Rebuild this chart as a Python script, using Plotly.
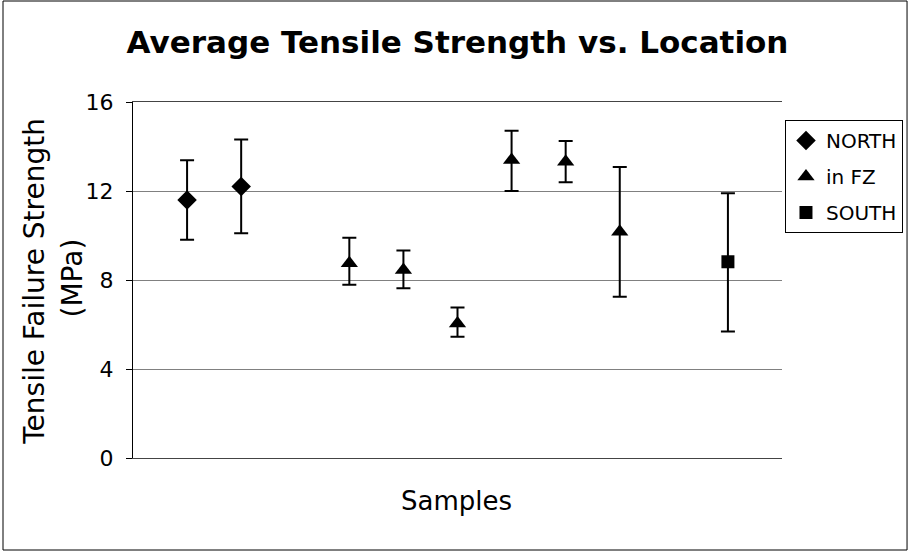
import plotly.graph_objects as go

# Data
north_x = [1, 2]
north_y = [11.6, 12.2]
north_hi = [13.38, 14.32]
north_lo = [9.81, 10.1]

fz_x = [4, 5, 6, 7, 8, 9]
fz_y = [8.75, 8.45, 6.05, 13.39, 13.32, 10.17]
fz_hi = [9.9, 9.33, 6.76, 14.71, 14.25, 13.08]
fz_lo = [7.79, 7.63, 5.45, 12.0, 12.39, 7.25]

south_x = [11]
south_y = [8.82]
south_hi = [11.9]
south_lo = [5.68]

y_ticks = [0, 4, 8, 12, 16]

W, H = 915, 552
L, R, T, B = 133, 128, 102, 94


def err(y, hi, lo):
    return dict(type="data", symmetric=False,
                array=[h - v for h, v in zip(hi, y)],
                arrayminus=[v - l for v, l in zip(y, lo)],
                color="black", thickness=2, width=7)


fig = go.Figure()
fig.add_trace(go.Scatter(x=north_x, y=north_y, mode="markers", name="NORTH",
                         legendgroup="n",
                         marker=dict(symbol="diamond", size=15, color="black"),
                         error_y=err(north_y, north_hi, north_lo)))
fig.add_trace(go.Scatter(x=fz_x, y=fz_y, mode="markers", name="in FZ",
                         legendgroup="f",
                         marker=dict(symbol="triangle-up", size=15, color="black"),
                         error_y=err(fz_y, fz_hi, fz_lo)))
fig.add_trace(go.Scatter(x=south_x, y=south_y, mode="markers", name="SOUTH",
                         legendgroup="s",
                         marker=dict(symbol="square", size=13, color="black"),
                         error_y=err(south_y, south_hi, south_lo)))

pw = W - L - R
ph = H - T - B

fig.update_layout(
    width=W, height=H,
    margin=dict(l=L, r=R, t=T, b=B, pad=0),
    paper_bgcolor="white", plot_bgcolor="white",
    font=dict(family="DejaVu Sans", color="black"),
    title=dict(text="<b>Average Tensile Strength vs. Location</b>",
               x=0.5, xanchor="center", y=1 - 42 / H, yanchor="middle",
               font=dict(size=31, family="DejaVu Sans", color="black")),
    xaxis=dict(range=[0, 12], showticklabels=False, ticks="",
               showgrid=False, zeroline=False, showline=True,
               linecolor="#444444", linewidth=1, mirror=True),
    yaxis=dict(range=[0, 16], tickvals=y_ticks, ticks="outside", ticklen=6,
               tickcolor="black", tickfont=dict(size=22), ticklabelstandoff=8,
               showgrid=True, gridcolor="#808080", gridwidth=1,
               zeroline=False, showline=True, linecolor="black", linewidth=1,
               mirror=False),
    showlegend=True,
    legend=dict(x=(790 - L) / pw, y=1 - (120 - T) / ph, xanchor="left", yanchor="top",
                bgcolor="white", bordercolor="black", borderwidth=1,
                font=dict(size=20), itemwidth=30, tracegroupgap=7),
    annotations=[
        dict(text="Tensile Failure Strength", textangle=-90, showarrow=False,
             xref="paper", yref="paper", x=(33 - L) / pw, y=(458 - 281) / ph,
             xanchor="center", yanchor="middle", font=dict(size=28)),
        dict(text="(MPa)", textangle=-90, showarrow=False,
             xref="paper", yref="paper", x=(72 - L) / pw, y=(458 - 278) / ph,
             xanchor="center", yanchor="middle", font=dict(size=28)),
        dict(text="Samples", showarrow=False,
             xref="paper", yref="paper", x=(459 - L) / pw, y=-(501 - 458) / ph,
             xanchor="center", yanchor="middle", font=dict(size=26)),
    ],
    shapes=[
        dict(type="rect", xref="paper", yref="paper",
             x0=(2 - L) / pw, x1=(W - 2 - L) / pw,
             y0=-(H - 2 - 458) / ph, y1=1 + (T - 1) / ph,
             line=dict(color="black", width=1)),
    ],
)

fig.write_html("out.html")
